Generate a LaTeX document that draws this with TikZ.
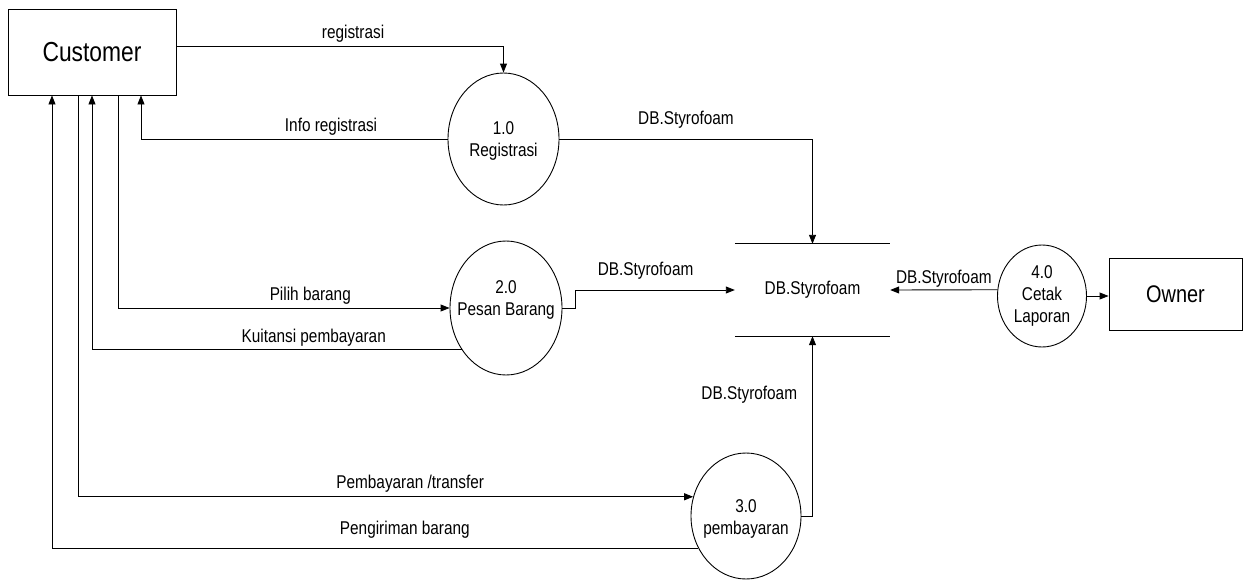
\documentclass[tikz,border=0pt]{standalone}
\usepackage{fontspec}
\setmainfont[FakeStretch=0.83]{Liberation Sans}
\usetikzlibrary{shapes.geometric,arrows.meta}
\tikzset{
  lbl/.style={font=\fontsize{18.5}{22}\selectfont, inner sep=1pt},
  ptext/.style={font=\fontsize{18.5}{22}\selectfont, align=center, inner sep=0pt},
  proc/.style={draw, ellipse, line width=0.9pt, inner sep=0pt},
  ent/.style={draw, rectangle, line width=0.9pt, inner sep=0pt},
  flow/.style={draw, line width=0.9pt, -{Triangle[length=9pt,width=7pt]}},
  plain/.style={draw, line width=0.9pt},
}
\begin{document}
\begin{tikzpicture}[x=1pt,y=-1pt]
\useasboundingbox (0,0) rectangle (1248,581);
% entities
\node[ent, minimum width=168pt, minimum height=86pt, font=\fontsize{27.5}{31}\selectfont] (cust) at (92,52) {Customer};
\node[ent, minimum width=133pt, minimum height=72pt, font=\fontsize{24}{28}\selectfont] (owner) at (1175.5,294) {Owner};
% processes
\node[proc, minimum width=111pt, minimum height=132pt,
      label={[ptext, yshift=-2pt]center:{1.0\\Registrasi}}] (p1) at (503.5,139) {};
\node[proc, minimum width=112pt, minimum height=134pt,
      label={[ptext, yshift=8pt]center:{2.0\\Pesan Barang}}] (p2) at (506,308) {};
\node[proc, minimum width=110pt, minimum height=126pt,
      label={[ptext, yshift=-3pt]center:{3.0\\pembayaran}}] (p3) at (746,516) {};
\node[proc, minimum width=89pt, minimum height=102pt,
      label={[ptext]center:{4.0\\Cetak\\Laporan}}] (p4) at (1042,296) {};
% data store
\node[lbl, minimum width=155pt, minimum height=92pt, inner sep=0pt] (store) at (812.5,290) {DB.Styrofoam};
\draw[plain] (store.north west) -- (store.north east);
\draw[plain] (store.south west) -- (store.south east);
% flows
\draw[flow] ([yshift=6pt]cust.east) -| (p1.north) node[lbl, pos=0.27, above=2pt] {registrasi};
\draw[flow] (p1.west) -| ([xshift=49pt]cust.south) node[lbl, pos=0.19, above=2pt] {Info registrasi};
\draw[flow] (p1.east) -| (store.north) node[lbl, pos=0.25, above=9pt] {DB.Styrofoam};
\draw[flow] ([xshift=26pt]cust.south) |- (p2.west) node[lbl, pos=0.79, above=2pt] {Pilih barang};
\draw[flow] (p2.223) -| (cust.south) node[lbl, pos=0.2, above=2pt] {Kuitansi pembayaran};
\draw[flow] ([xshift=-14pt]cust.south) |- (p3.160) node[lbl, pos=0.77, above=3pt] {Pembayaran /transfer};
\draw[flow] (p3.214) -| ([xshift=-40pt]cust.south) node[lbl, pos=0.227, above=8pt] {Pengiriman barang};
\draw[flow] (p2.east) -- ++(13,0) |- (store.west) node[lbl, pos=0.72, above=9pt] {DB.Styrofoam};
\draw[flow] (p3.east) -| (store.south) node[lbl, pos=0.836, left=14pt] {DB.Styrofoam};
\draw[flow] (p4.172) -- (store.east) node[lbl, midway, above=1pt] {DB.Styrofoam};
\draw[flow] (p4.east) -- (owner.west |- p4.east);
\end{tikzpicture}
\end{document}
